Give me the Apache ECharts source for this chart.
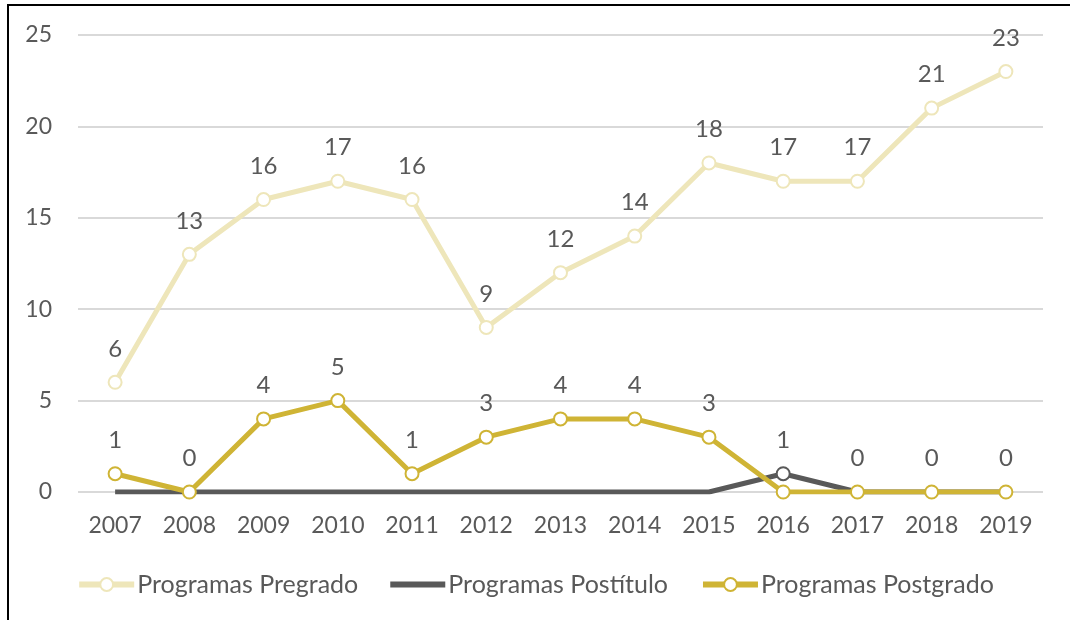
<!DOCTYPE html>
<html><head><meta charset="utf-8">
<script src="https://cdn.jsdelivr.net/npm/echarts@6/dist/echarts.min.js"></script>
<style>html,body{margin:0;padding:0;background:#fff}#c{width:1070px;height:620px}</style>
</head><body><div id="c"></div>
<script>
const years = ['2007','2008','2009','2010','2011','2012','2013','2014','2015','2016','2017','2018','2019'];
const pregrado = [6,13,16,17,16,9,12,14,18,17,17,21,23];
const postitulo = [0,0,0,0,0,0,0,0,0,1,0,0,0];
const postgrado = [1,0,4,5,1,3,4,4,3,0,0,0,0];
const yTicks = [0,5,10,15,20,25];

const FONT = 'Lato';
const TXT = '#595959';
const C_PRE = '#EEE6BA', C_POST = '#595959', C_PG = '#CFB435';

const labelBase = {show:true, position:'top', distance:14, color:TXT, fontFamily:FONT, fontSize:24};

const chart = echarts.init(document.getElementById('c'), null, {renderer:'canvas'});
chart.setOption({
  animation:false,
  backgroundColor:'#fff',
  graphic:[{type:'rect', shape:{x:8,y:5,width:1200,height:800}, style:{fill:'none', stroke:'#000', lineWidth:2}, z:100}],
  grid:{left:78, right:27, top:35, bottom:128, containLabel:false},
  legend:{
    bottom:18, left:'center', itemWidth:55, itemHeight:16, itemGap:32,
    lineStyle:{width:6},
    textStyle:{color:TXT, fontFamily:FONT, fontSize:25, padding:[0,0,0,-2]},
    data:[
      'Programas Pregrado',
      {name:'Programas Postítulo', icon:'path://M0,0 L56,0 L56,6 L0,6 Z', itemStyle:{color:C_POST, borderWidth:0}},
      'Programas Postgrado'
    ]
  },
  xAxis:{
    type:'category', data:years, boundaryGap:true,
    axisLine:{show:false}, axisTick:{show:false},
    axisLabel:{color:TXT, fontFamily:FONT, fontSize:23, margin:22}
  },
  yAxis:{
    type:'value', min:yTicks[0], max:yTicks[yTicks.length-1], interval:5,
    axisLine:{show:false}, axisTick:{show:false},
    axisLabel:{color:TXT, fontFamily:FONT, fontSize:23, margin:26},
    splitLine:{lineStyle:{color:'#D9D9D9', width:2}}
  },
  series:[
    {name:'Programas Pregrado', type:'line', data:pregrado, symbol:'circle', symbolSize:13,
     lineStyle:{color:C_PRE, width:5}, itemStyle:{color:'#fff', borderColor:C_PRE, borderWidth:2},
     label:labelBase, z:2},
    {name:'Programas Postítulo', type:'line', symbol:'none',
     data:postitulo.map((v,i)=> v>0 ? {value:v, symbol:'circle', symbolSize:13, label:{show:true}} : {value:v, label:{show:false}}),
     lineStyle:{color:C_POST, width:5}, itemStyle:{color:'#fff', borderColor:C_POST, borderWidth:2},
     label:labelBase, z:3},
    {name:'Programas Postgrado', type:'line', symbol:'circle', symbolSize:13,
     data:postgrado.map((v,i)=> postitulo[i]>0 ? {value:v, label:{show:false}} : v),
     lineStyle:{color:C_PG, width:5}, itemStyle:{color:'#fff', borderColor:C_PG, borderWidth:2},
     label:labelBase, z:4}
  ]
});
</script></body></html>
